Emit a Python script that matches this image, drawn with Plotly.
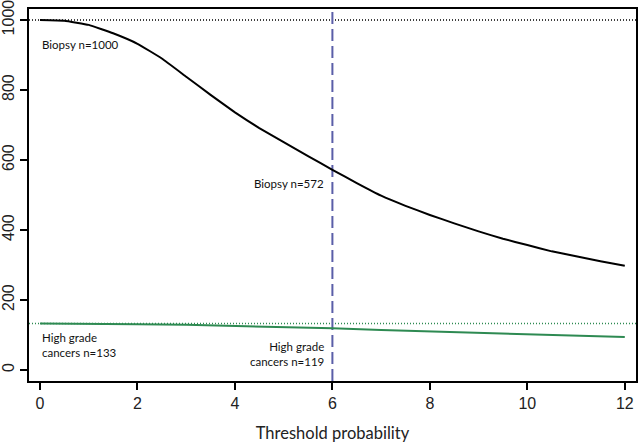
import plotly.graph_objects as go

# Data
threshold = [0, 0.5, 1, 1.5, 2, 2.5, 3, 3.5, 4, 4.5, 5, 5.5, 6,
             6.5, 7, 7.5, 8, 8.5, 9, 9.5, 10, 10.5, 11, 11.5, 12]
biopsy = [1000, 998, 986, 962, 932, 890, 838, 786, 736, 691, 651, 611, 572,
          534, 498, 469, 443, 419, 396, 375, 357, 339, 325, 311, 298]
hg_threshold = [0, 1, 2, 3, 4, 5, 6, 7, 8, 9, 10, 11, 12]
high_grade = [133, 133, 131, 129, 126, 122, 119, 114, 110, 106, 102, 98, 94]
ref_biopsy = 1000
ref_high_grade = 133
chosen_threshold = 6
x_ticks = [0, 2, 4, 6, 8, 10, 12]
y_ticks = [0, 200, 400, 600, 800, 1000]
labels = ["Biopsy n=1000", "Biopsy n=572",
          "High grade<br>cancers n=133", "High grade<br>cancers n=119"]

GREEN = "#2e8a52"
BLUE = "#5a5ea8"
XR = [-0.226, 12.23]
YR = [-31.4, 1031.4]

fig = go.Figure()

# reference dotted lines
fig.add_trace(go.Scatter(x=XR, y=[ref_biopsy, ref_biopsy], mode="lines",
                         line=dict(color="black", width=1.5, dash="1px,2px"),
                         hoverinfo="skip"))
fig.add_trace(go.Scatter(x=XR, y=[ref_high_grade, ref_high_grade], mode="lines",
                         line=dict(color=GREEN, width=1.5, dash="1px,2px"),
                         hoverinfo="skip"))
# vertical dashed line
fig.add_trace(go.Scatter(x=[chosen_threshold, chosen_threshold], y=YR, mode="lines",
                         line=dict(color=BLUE, width=2, dash="12px,5px"),
                         hoverinfo="skip"))
# curves
fig.add_trace(go.Scatter(x=threshold, y=biopsy, mode="lines",
                         line=dict(color="black", width=2, shape="spline", smoothing=0.3)))
fig.add_trace(go.Scatter(x=hg_threshold, y=high_grade, mode="lines",
                         line=dict(color=GREEN, width=2)))

ann_font = dict(family="Lato", size=11.5, color="#111111")
fig.add_annotation(x=0, y=931, text=labels[0], xanchor="left", yanchor="middle",
                   showarrow=False, font=ann_font, align="left")
fig.add_annotation(x=5.87, y=534, text=labels[1], xanchor="right", yanchor="middle",
                   showarrow=False, font=ann_font, align="right")
fig.add_annotation(x=0, y=71, text=labels[2], xanchor="left", yanchor="middle",
                   showarrow=False, font=ann_font, align="left")
fig.add_annotation(x=5.87, y=47, text=labels[3], xanchor="right", yanchor="middle",
                   showarrow=False, font=ann_font, align="right")

axis_common = dict(showline=True, linecolor="black", linewidth=2, mirror=True,
                   ticks="outside", ticklen=7, tickwidth=1.5, tickcolor="black",
                   showgrid=False, zeroline=False, automargin=False,
                   ticklabeloverflow="allow",
                   tickfont=dict(family="Liberation Sans", size=16, color="#222222"))

fig.update_layout(
    width=640, height=446,
    margin=dict(l=29, r=4, t=9, b=65),
    paper_bgcolor="white", plot_bgcolor="white",
    showlegend=False,
    xaxis=dict(range=XR, tickvals=x_ticks, ticktext=[str(v) for v in x_ticks],
               title=dict(text="Threshold probability",
                          font=dict(family="Lato", size=16.5, color="#222222"),
                          standoff=16),
               **axis_common),
    yaxis=dict(range=YR, tickvals=y_ticks, ticktext=[str(v) for v in y_ticks],
               tickangle=-90, **axis_common),
)

fig.write_html("out.html", config={"displayModeBar": False},
               post_script="document.body.style.margin='0';document.body.style.overflow='hidden';")
